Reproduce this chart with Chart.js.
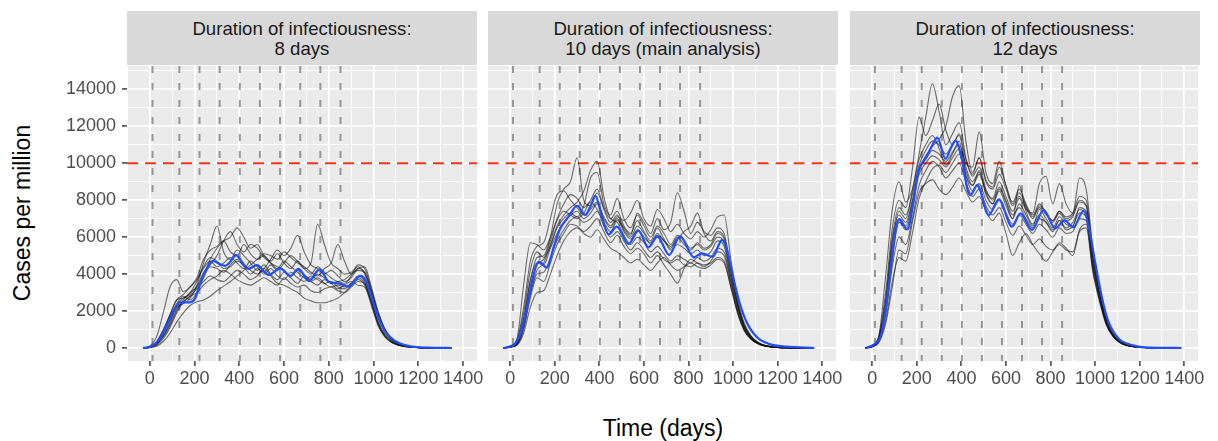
<!DOCTYPE html>
<html lang="en">
<head>
<script src="https://cdn.jsdelivr.net/npm/chart.js@4.4.0/dist/chart.umd.min.js"></script>
<style>
    body {
        margin: 0;
        width: 1218px;
        height: 441px;
        position: relative;
        overflow: hidden;
        background: #fff;
        font-family: "Liberation Sans", Arial, Helvetica, sans-serif;
    }
    canvas { position: absolute; }
    .strip {
        position: absolute;
        top: 11px;
        width: 350px;
        height: 54px;
        background: #d9d9d9;
        color: #1a1a1a;
        font-size: 18.6px;
        line-height: 20px;
        text-align: center;
        display: flex;
        align-items: center;
        justify-content: center;
        padding-top: 2px;
        box-sizing: border-box;
    }
    .axis-title {
        position: absolute;
        font-size: 23px;
        color: #000;
        white-space: nowrap;
    }
    #ytitle { left: 22px; top: 213px; transform: translate(-50%, -50%) rotate(-90deg); }
    #xtitle { left: 663px; top: 428px; transform: translate(-50%, -50%); }
</style>
</head>
<body>

<div id="ytitle" class="axis-title">Cases per million</div>
<div id="xtitle" class="axis-title">Time (days)</div>

<script>
// time grid shared by the simulation runs (grey lines)
const simDays = [-30, 0, 30, 60, 90, 120, 150, 180, 210, 240, 270, 300, 330, 360, 390, 420, 450, 480, 510, 540,
    570, 600, 630, 660, 690, 720, 750, 780, 810, 840, 870, 900, 930, 960, 990, 1020, 1050, 1080, 1110, 1140,
    1200, 1260, 1350];

const interventionDays = [12, 132, 222, 312, 402, 492, 582, 672, 762, 852];
const threshold = 10000;

// axis breaks
const xMajor = [0, 200, 400, 600, 800, 1000, 1200, 1400];
const xMinor = [-100, 100, 300, 500, 700, 900, 1100, 1300];
const yMajor = [0, 2000, 4000, 6000, 8000, 10000, 12000, 14000];
const yMinor = [1000, 3000, 5000, 7000, 9000, 11000, 13000, 15000];

const panelTitles = [
    ["Duration of infectiousness:", "8 days"],
    ["Duration of infectiousness:", "10 days (main analysis)"],
    ["Duration of infectiousness:", "12 days"]
];

// ---- 8 days ----
const blueDays8 = [-31, 9, 46, 76, 106, 136, 180, 203, 225, 255, 282, 307, 337, 359, 386, 411, 441, 478, 531, 583,
    628, 665, 710, 759, 799, 844, 888, 941, 963, 993, 1022, 1052, 1090, 1149, 1239, 1350];
const blue8 = [0, 100, 520, 1240, 1965, 2470, 2470, 2690, 3500, 4310, 4710, 4580, 4440, 4670, 5030, 4670, 4280, 4490, 3950, 4310,
    3900, 4280, 3630, 4260, 3590, 3500, 3320, 3900, 3680, 2690, 1600, 880, 430, 124, 15, 0];
const sims8 = [
    [0,100,600,1900,3300,3700,3050,3300,3700,4300,4700,4400,4600,4900,4600,4300,4700,4400,4000,4300,3900,3700,4100,3800,3600,3900,3700,3500,3600,3300,3200,3500,3900,3600,2400,1300,650,320,160,80,20,5,0],
    [0,50,250,700,1400,2300,2700,2900,3400,4600,5600,6600,5200,4800,5300,5000,4600,4200,4500,4000,3700,4100,3800,3500,3900,3600,3400,3700,3500,3200,3400,3600,3400,3300,2500,1400,750,380,190,90,25,5,0],
    [0,40,200,600,1200,2000,2600,3000,3300,3900,4800,5400,5800,6000,6500,6000,5400,5600,5000,4700,5100,4600,4300,4700,4300,4000,4400,4100,3800,3600,3700,4000,4200,4100,3000,1800,950,470,230,110,30,5,0],
    [0,60,300,900,1700,2400,2800,2600,3000,3800,4400,4300,4100,4500,4800,4400,4000,4300,4100,4500,4200,4600,5000,4700,4300,4600,6700,5600,4600,4300,4000,4100,4400,4000,2900,1700,880,430,210,100,25,5,0],
    [0,30,150,500,1100,1900,2500,2800,3200,3600,3900,3700,3600,3900,4200,4000,3700,3900,4300,3900,3500,3400,3200,3000,2700,2550,2450,2450,2550,2700,3000,3400,3800,3500,2500,1300,650,320,160,80,20,5,0],
    [0,20,100,350,800,1400,1900,2300,2500,2600,2800,3100,3350,3600,3900,4200,4500,4800,5100,5000,4800,5200,4900,4600,4400,4100,3900,4300,4600,5600,4700,4000,4300,4100,3100,1900,1000,500,240,110,30,5,0],
    [0,50,250,800,1500,2200,2400,2700,3300,4100,4500,5000,5800,6300,5600,5200,5600,5400,4900,4600,4300,4700,4400,4100,3800,3600,3800,3500,3300,3400,3300,3500,3700,3400,2300,1200,600,300,150,70,20,5,0],
    [0,70,350,1000,1800,2600,2700,3000,3600,4400,4900,4700,4300,4400,4700,4500,4200,4000,4300,4800,5300,5000,5400,6100,5200,4500,4300,4000,4200,3900,3600,3800,4300,4400,3300,2000,1050,520,250,120,30,5,0],
    [0,40,200,650,1300,2100,2500,2800,3000,3400,3700,3900,4200,4000,3700,3500,3400,3600,3800,3600,3400,3800,3500,3300,3400,3100,3000,3200,3300,3100,3000,3300,3600,3500,2600,1400,700,350,170,80,20,5,0],
    [0,50,300,900,1800,2600,2900,3300,3800,4800,5300,5500,5800,5200,5000,5600,5100,4800,5000,4600,4400,4200,3900,4200,4000,3700,4000,3800,3500,3600,3500,3900,4500,4300,3200,1800,950,470,230,110,30,5,0]
];

// ---- 10 days ----
const blueDays10 = [-28, 16, 46, 76, 106, 128, 165, 195, 225, 262, 300, 337, 359, 382, 411, 441, 478, 531, 575, 620,
    660, 714, 762, 824, 859, 908, 951, 973, 1000, 1030, 1060, 1105, 1164, 1239, 1365];
const blue10 = [0, 160, 790, 2240, 4040, 4670, 4350, 5480, 6480, 7110, 7700, 7200, 7650, 8230, 7110, 6150, 6570, 5630, 6350, 5450,
    6030, 5040, 6060, 4910, 5120, 4940, 5850, 5300, 3860, 2420, 1420, 610, 210, 70, 0];
const sims10 = [
    [0,120,500,3400,5700,5600,5300,6000,7000,7800,8300,8100,7600,8000,8600,7600,7000,7400,6600,6200,6900,6300,5800,6500,5900,5400,6000,5600,5300,5700,5400,5600,6200,5900,4100,2400,1200,600,300,140,35,8,0],
    [0,80,300,1500,3600,4900,5000,6000,7800,8600,9000,10300,8000,7700,8400,7500,6800,7200,6400,6000,6600,6200,5600,6100,5800,5300,5600,5400,5100,5300,5000,5200,5800,5500,3800,2200,1100,550,270,130,30,7,0],
    [0,60,200,1200,3000,4200,4600,5600,6600,7200,7600,7900,8500,9600,10100,8200,7000,6800,6100,5600,6000,5700,5200,5500,5100,4700,5000,4800,4600,4900,4700,4900,5400,5200,3600,2100,1050,520,260,120,30,7,0],
    [0,70,250,1400,3300,4500,4800,5500,6500,7000,7300,7100,7700,9200,9500,7800,7200,8100,7000,6500,7200,6600,6000,6600,6200,5600,6100,5800,5400,5600,5300,5500,6000,5700,3900,2300,1150,570,280,130,30,7,0],
    [0,90,350,1900,4200,5200,4900,5800,6900,7400,7200,7000,7300,7900,7500,6800,6300,6900,6500,6100,7300,6800,6200,7000,6400,6800,8400,7400,6200,6800,6300,6100,6500,6200,4300,2500,1250,620,300,140,35,8,0],
    [0,50,180,1000,2700,3800,3600,4600,5600,6200,6700,6600,6300,6600,7000,6300,5700,6100,5500,5100,5400,5100,4600,5000,4500,4000,3500,4300,4800,4600,4400,4700,5200,5000,3500,2000,1000,500,250,120,30,7,0],
    [0,40,150,800,2200,3000,3100,4000,5000,5800,6300,6500,6200,6000,6400,5900,5400,5200,4900,4600,4800,4500,4200,4600,4900,4500,4200,4400,4600,4400,4300,4500,4800,4600,3300,1900,950,480,240,110,28,6,0],
    [0,100,400,2200,4700,5500,5700,7000,8300,8500,8000,7600,7200,7500,7900,7000,6500,7000,6300,5900,6400,6000,5700,6200,5800,5500,5900,6300,6600,7300,6200,5800,6300,6000,4200,2400,1200,600,290,140,35,8,0],
    [0,70,300,1600,3700,4600,4500,5400,6200,6800,7200,7400,7000,7300,7800,7100,6600,7100,6900,7300,8000,7000,6600,7500,7000,6300,6700,6200,5900,6300,6000,6400,7100,7200,4800,2700,1350,670,330,150,35,8,0],
    [0,60,200,1100,2900,4000,4100,4900,5800,6400,6900,7100,6800,7000,7400,6600,6000,6300,5800,5300,5700,5300,4900,5200,4800,4600,4800,4500,4400,4600,4500,4600,4900,4700,3300,1900,950,480,240,110,28,6,0]
];

// ---- 12 days ----
const blueDays12 = [-28, 16, 39, 61, 83, 106, 121, 158, 183, 206, 222, 243, 270, 292, 329, 352, 374, 404, 426, 441,
    471, 523, 568, 627, 665, 717, 769, 821, 863, 903, 948, 970, 1000, 1030, 1060, 1105, 1164, 1239, 1388];
const blue12 = [0, 250, 700, 2140, 4310, 6480, 6980, 6420, 7740, 9540, 9990, 10360, 10990, 11390, 10230, 10810, 11220, 10090, 8640, 8280,
    8820, 7200, 8050, 6570, 7290, 6390, 7470, 6480, 6910, 6530, 7430, 6660, 4670, 2780, 1420, 520, 160, 15, 0];
const sims12 = [
    [0,150,700,3900,7500,9000,7900,8600,10200,11000,11500,10800,9900,10500,11200,9400,8800,9600,8300,7800,8600,7900,7000,7800,7200,6600,7500,7000,6500,7100,6700,6600,7600,7400,4800,2900,1450,700,340,160,40,10,0],
    [0,100,500,2300,5500,7400,7000,8500,10500,12500,14300,12800,11000,11600,12200,10300,9300,9800,8600,8000,8700,8000,7200,7600,7000,6500,7000,6800,6400,6900,6500,6800,7500,7300,4600,2800,1400,680,330,150,38,9,0],
    [0,130,650,3000,6500,8000,7600,9700,12500,11500,12300,13200,11800,11000,11600,10200,9400,10300,9000,8600,9400,8600,7700,8200,7600,7000,7700,7300,6800,7300,6900,7100,8000,7700,5000,3000,1500,730,350,170,40,10,0],
    [0,90,450,2000,4800,6800,6600,7900,9600,10400,10900,11300,12000,13600,14200,11200,9500,10300,9100,8700,9800,8800,7800,8400,7700,7100,7600,7200,6900,7400,7000,7200,7900,7700,4900,2900,1450,700,340,160,40,10,0],
    [0,110,550,2400,5800,7200,6800,8000,9600,10200,10700,10500,10100,10600,11000,10000,9800,11700,9500,8900,10100,8800,7900,8600,7800,7200,7800,7300,6900,7400,7100,7300,8200,8000,5100,3000,1500,740,360,170,42,10,0],
    [0,70,350,1500,3600,4900,4700,6200,8100,9000,9700,9900,9500,10000,10500,9300,8500,8900,8000,7500,8000,7300,6700,7200,6700,6200,6700,6400,6000,6500,6200,6300,7000,6900,4400,2700,1350,660,320,150,38,9,0],
    [0,60,300,1300,3300,5300,5100,6800,8400,8900,9100,8600,8300,8700,9200,8500,7900,8200,7400,6900,7300,6200,5000,5700,6200,5600,5100,4700,5200,5600,5300,5200,6300,6500,4100,2500,1250,620,300,140,35,8,0],
    [0,120,600,2700,6000,7600,7200,8300,9900,10700,11200,11000,10500,11000,11500,9800,9000,9500,8500,8100,9000,8200,7400,8100,7500,7300,8900,9300,7800,8900,7800,7300,9200,8600,5400,3200,1600,780,380,180,45,11,0],
    [0,100,500,2200,5200,6900,6400,7700,9400,10000,10400,10200,9800,10300,10800,9600,8800,9400,8400,7800,8500,7700,7000,8800,7400,6700,7200,6800,6300,6900,6400,6600,7300,7100,4500,2700,1350,670,330,150,38,9,0],
    [0,80,400,1800,4400,6000,5600,7000,8800,9600,10100,9800,9200,9600,10000,9000,8200,8600,7700,7200,7600,6800,6100,6600,6100,5600,5900,5500,5300,5700,5400,5000,6400,6700,4200,2600,1300,640,310,150,37,9,0]
];

// layout (page pixels)
const panelLeft = [127, 488, 850];
const PLOT_W = 350, PLOT_TOP = 66, PLOT_H = 295;
const PAD_TOP = 22, PAD_RIGHT = 26, X_AXIS_H = 40, Y_AXIS_W = 127;

Chart.defaults.font.family = '"Liberation Sans", Arial, Helvetica, sans-serif';
Chart.defaults.font.size = 18;
Chart.defaults.color = '#4d4d4d';

const panelBg = {
    id: 'panelBg',
    beforeDraw(chart) {
        const {ctx, chartArea: a} = chart;
        ctx.save();
        ctx.fillStyle = '#ebebeb';
        ctx.fillRect(a.left, a.top, a.width, a.height);
        ctx.restore();
    }
};

const refLines = {
    id: 'refLines',
    beforeDatasetsDraw(chart) {
        const {ctx, chartArea: a, scales} = chart;
        ctx.save();
        ctx.beginPath();
        ctx.rect(a.left, a.top, a.width, a.height);
        ctx.clip();
        ctx.setLineDash([7, 10]);
        ctx.lineWidth = 2;
        ctx.strokeStyle = 'rgba(135,135,135,0.85)';
        interventionDays.forEach(d => {
            const px = scales.x.getPixelForValue(d);
            ctx.beginPath();
            ctx.moveTo(px, a.top);
            ctx.lineTo(px, a.bottom);
            ctx.stroke();
        });
        const py = scales.y.getPixelForValue(threshold);
        ctx.setLineDash([11, 7]);
        ctx.lineWidth = 2;
        ctx.strokeStyle = '#f4331d';
        ctx.beginPath();
        ctx.moveTo(a.left, py);
        ctx.lineTo(a.right, py);
        ctx.stroke();
        ctx.restore();
    }
};

const breaks = (major, minor) => major.concat(minor).sort((a, b) => a - b).map(v => ({value: v}));

function draw(i, sims, days, mean) {
    const first = i === 0;

    const strip = document.createElement('div');
    strip.className = 'strip';
    strip.style.left = panelLeft[i] + 'px';
    strip.innerHTML = panelTitles[i].join('<br>');
    document.body.appendChild(strip);

    const canvas = document.createElement('canvas');
    const w = (first ? Y_AXIS_W : 0) + PLOT_W + PAD_RIGHT;
    const h = PAD_TOP + PLOT_H + X_AXIS_H;
    canvas.width = w;
    canvas.height = h;
    canvas.style.width = w + 'px';
    canvas.style.height = h + 'px';
    document.body.appendChild(canvas);

    const datasets = [{
        data: days.map((d, k) => ({x: d, y: mean[k]})),
        borderColor: '#1f4dff',
        borderWidth: 2.2
    }];
    sims.forEach(row => {
        datasets.push({
            data: row.map((v, k) => ({x: simDays[k], y: v})),
            borderColor: 'rgba(20,20,20,0.6)',
            borderWidth: 1.1
        });
    });

    const majorX = c => c.tick && xMajor.includes(c.tick.value);
    const majorY = c => c.tick && yMajor.includes(c.tick.value);

    const chart = new Chart(canvas, {
        type: 'line',
        data: {datasets: datasets},
        options: {
            responsive: false,
            animation: false,
            events: [],
            layout: {padding: {top: PAD_TOP, right: PAD_RIGHT, left: 0, bottom: 0}},
            elements: {
                point: {radius: 0},
                line: {cubicInterpolationMode: 'monotone', fill: false}
            },
            plugins: {legend: {display: false}, tooltip: {enabled: false}},
            scales: {
                x: {
                    type: 'linear',
                    min: -102,
                    max: 1462,
                    afterBuildTicks: s => { s.ticks = breaks(xMajor, xMinor); },
                    afterFit: s => { s.height = X_AXIS_H; },
                    border: {display: false},
                    grid: {
                        color: '#ffffff',
                        lineWidth: c => majorX(c) ? 1.8 : 0.9,
                        tickLength: 5,
                        tickColor: c => majorX(c) ? '#333333' : 'rgba(0,0,0,0)',
                        tickWidth: c => majorX(c) ? 1.4 : 0
                    },
                    ticks: {
                        autoSkip: false,
                        maxRotation: 0,
                        padding: 2,
                        callback: v => xMajor.includes(v) ? String(v) : ''
                    }
                },
                y: {
                    type: 'linear',
                    min: -705,
                    max: 15265,
                    afterBuildTicks: s => { s.ticks = breaks(yMajor, yMinor); },
                    afterFit: s => { s.width = first ? Y_AXIS_W : 0; },
                    border: {display: false},
                    grid: {
                        color: '#ffffff',
                        lineWidth: c => majorY(c) ? 1.8 : 0.9,
                        drawTicks: first,
                        tickLength: 5,
                        tickColor: c => majorY(c) ? '#333333' : 'rgba(0,0,0,0)',
                        tickWidth: c => majorY(c) ? 1.4 : 0
                    },
                    ticks: {
                        display: first,
                        autoSkip: false,
                        padding: 6,
                        callback: v => yMajor.includes(v) ? String(v) : ''
                    }
                }
            }
        },
        plugins: [panelBg, refLines]
    });

    // put the plot area exactly on its panel slot
    canvas.style.left = (panelLeft[i] - chart.chartArea.left) + 'px';
    canvas.style.top = (PLOT_TOP - chart.chartArea.top) + 'px';
}

draw(0, sims8, blueDays8, blue8);
draw(1, sims10, blueDays10, blue10);
draw(2, sims12, blueDays12, blue12);
</script>

</body>
</html>
